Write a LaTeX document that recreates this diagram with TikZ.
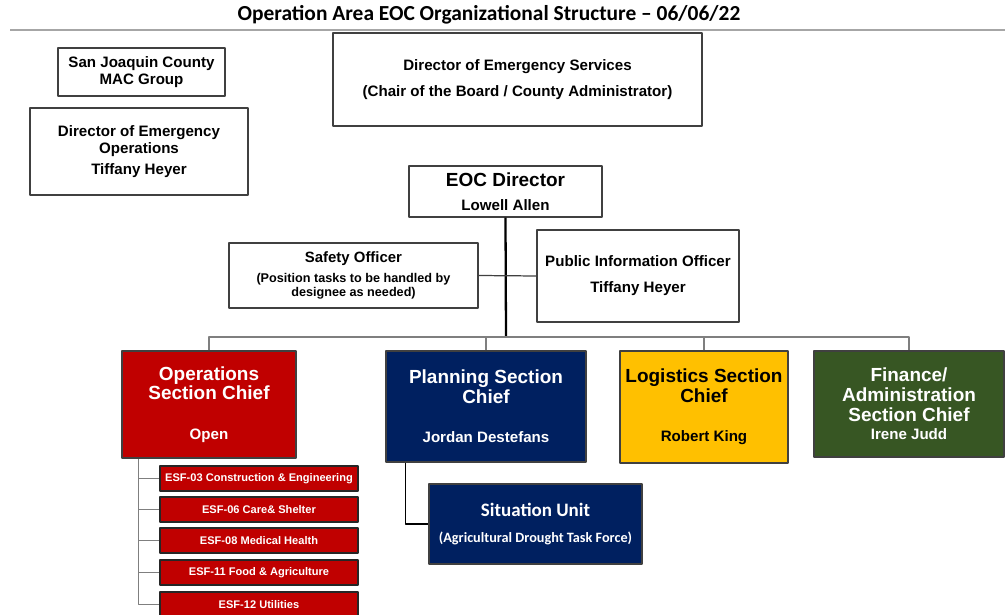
\documentclass[tikz,border=0pt]{standalone}
\usepackage{fontspec}
\setmainfont{Liberation Sans}
\newfontfamily\calibri{Carlito}
\newcommand\fsz[1]{\fontsize{#1}{#1}\selectfont}
\definecolor{opsred}{HTML}{C00000}
\definecolor{plannavy}{HTML}{002060}
\definecolor{loggold}{HTML}{FFC000}
\definecolor{fingreen}{HTML}{375623}
\definecolor{edge}{HTML}{404040}
\definecolor{wire}{HTML}{7F7F7F}
\begin{document}
\begin{tikzpicture}[x=0.02cm,y=-0.02cm,line join=round,
	orgbox/.style 2 args={draw=edge,line width=0.6pt,inner sep=0pt,align=center,
		minimum width=#1*0.02cm,minimum height=#2*0.02cm,
		font=\bfseries\fontsize{8.6}{9.8}\selectfont},
	chief/.style={text=white,font=\bfseries\fontsize{10.8}{11.3}\selectfont},
	esf/.style={orgbox={198}{25},fill=opsred,draw=black!85,text=white,
		font=\bfseries\fontsize{6.3}{7}\selectfont},
	link/.style={draw=wire,line width=0.7pt},
	trunk/.style={draw=black,line width=1.3pt}]
	\useasboundingbox (0,0) rectangle (1005,615);
	\node[anchor=base,font=\calibri\bfseries\fontsize{12.2}{14}\selectfont] (title) at (489,21)
	{Operation Area EOC Organizational Structure – 06/06/22};
	\draw[draw=black!35,line width=1pt] (10,30) -- (1005,30);
	
	\node[orgbox={167}{48}] (mac) at (141.5,72) {San Joaquin County\\MAC Group};
	\node[orgbox={218}{87},font=\bfseries\fontsize{8.6}{9.6}\selectfont] (deo) at (139,151.5)
	{Director of Emergency\\Operations\\[2.3pt]Tiffany Heyer};
	\node[orgbox={369}{93}] (des) at (517.5,79.5)
	{Director of Emergency Services\\[4.9pt](Chair of the Board / County Administrator)};
	\node[orgbox={193}{51}] (eoc) at (505.5,191.5) {\fsz{10.8}EOC Director\\[4.2pt]Lowell Allen};
	\node[orgbox={249}{65},font=\bfseries\fontsize{7.2}{7.9}\selectfont] (safety) at (353.5,275.5)
	{\fsz{8.5}Safety Officer\\[3.7pt](Position tasks to be handled by\\designee as needed)};
	\node[orgbox={202}{92}] (pio) at (638,276) {Public Information Officer\\[4.9pt]Tiffany Heyer};
	
	\node[orgbox={174}{107},chief,fill=opsred] (ops) at (209,404.5)
	{Operations\\Section Chief\\[11.2pt]\fsz{8.6}Open};
	\node[orgbox={200}{111},chief,fill=plannavy] (plan) at (486,406.5)
	{Planning Section\\Chief\\[11.2pt]\fsz{8.6}Jordan Destefans};
	\node[orgbox={168}{112},chief,fill=loggold,text=black] (log) at (704,407)
	{Logistics Section\\Chief\\[11.2pt]\fsz{8.6}Robert King};
	\node[orgbox={190}{106},chief,fill=fingreen] (fin) at (909,404)
	{Finance/\\Administration\\Section Chief\\[-0.8pt]\fsz{8.6}Irene Judd};
	\node[orgbox={213}{80},fill=plannavy,text=white,font=\calibri\bfseries\fontsize{8.1}{11}\selectfont] (sit) at (535.5,524)
	{\fsz{10.8}Situation Unit\\[3.7pt](Agricultural Drought Task Force)};
	
	\foreach \i/\y/\t in {1/478.5/ESF-03 Construction \& Engineering,2/509.5/ESF-06 Care\& Shelter,
		3/540.5/ESF-08 Medical Health,4/572.5/ESF-11 Food \& Agriculture,5/604.5/ESF-12 Utilities}
	\node[esf] (esf\i) at (259,\y) {\t};
	
	\coordinate (bus) at (506,337);
	\coordinate (esfbar) at ([xshift=0.34cm]ops.south west);
	\coordinate (sitbar) at ([xshift=0.4cm]plan.south west);
	\draw[trunk] (eoc.south) -- (bus);
	\draw[link] (ops.north) -- (ops.north |- bus) -- (fin.north |- bus) -- (fin.north);
	\foreach \s in {plan,log} \draw[link] (\s.north) -- (\s.north |- bus);
	\draw[link,draw=edge] (safety.east) -- (pio.west);
	\draw[link,draw=black] (sitbar) |- (sit.west);
	\draw[link] (esfbar) |- (esf5.west);
	\foreach \i in {1,...,4} \draw[link] (esfbar |- esf\i.west) -- (esf\i.west);
\end{tikzpicture}
\end{document}
